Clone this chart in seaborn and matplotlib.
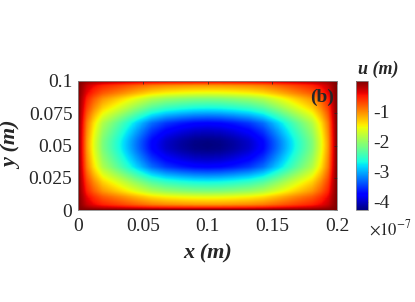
import numpy as np
import matplotlib
matplotlib.use('Agg')
import matplotlib.pyplot as plt
import seaborn as sns

# centreline profiles, u in units of 1e-7 m
x_line = [0, 0.0035, 0.0066, 0.012, 0.019, 0.032, 0.044, 0.057, 0.068, 0.08, 0.09,
          0.1, 0.11, 0.12, 0.132, 0.143, 0.156, 0.168, 0.181, 0.188, 0.1934, 0.1965, 0.2]
u_x = [0, -0.53, -1.07, -1.6, -2.13, -2.67, -3.2, -3.74, -4.0, -4.15, -4.24,
       -4.27, -4.24, -4.15, -4.0, -3.74, -3.2, -2.67, -2.13, -1.6, -1.07, -0.53, 0]
y_line = [0, 0.0016, 0.0039, 0.010, 0.0143, 0.0213, 0.027, 0.033, 0.039, 0.044, 0.047,
          0.05, 0.053, 0.056, 0.061, 0.067, 0.073, 0.0787, 0.0857, 0.090, 0.0961, 0.0984, 0.1]
u_y = [0, -0.53, -1.07, -1.6, -2.13, -2.67, -3.2, -3.74, -4.0, -4.17, -4.25,
       -4.27, -4.25, -4.17, -4.0, -3.74, -3.2, -2.67, -2.13, -1.6, -1.07, -0.53, 0]
u_min = -4.27
cbar_ticks = [-1, -2, -3, -4]

sns.set_theme(style='white')
plt.rcParams['font.family'] = ['Liberation Serif', 'DejaVu Serif']
plt.rcParams['mathtext.fontset'] = 'stix'
plt.rcParams['axes.unicode_minus'] = False

xs = np.linspace(0, 0.2, 401)
ys = np.linspace(0, 0.1, 201)
gx = np.interp(xs, x_line, u_x) / u_min
gy = np.interp(ys, y_line, u_y) / u_min
field = u_min * np.outer(gy, gx)

fig = plt.figure(figsize=(4.15, 3.02), dpi=100)
ax = fig.add_axes([0.188, 0.3046, 0.624, 0.4272])
cax = fig.add_axes([0.858, 0.3046, 0.029, 0.4272])

im = ax.imshow(field, origin='lower', extent=[0, 0.2, 0, 0.1], cmap='jet',
               vmin=u_min, vmax=0, interpolation='bilinear', aspect='auto')
ax.set_xlim(0, 0.2)
ax.set_ylim(0, 0.1)
ax.set_xticks([0, 0.05, 0.1, 0.15, 0.2])
ax.set_xticklabels(['0', '0.05', '0.1', '0.15', '0.2'])
ax.set_yticks([0, 0.025, 0.05, 0.075, 0.1])
ax.set_yticklabels(['0', '0.025', '0.05', '0.075', '0.1'])
ax.tick_params(direction='in', length=2, width=0.5, top=True, right=True,
               labelsize=14, colors='#262626')
ax.tick_params(axis='x', pad=6)
ax.tick_params(axis='y', pad=4)
for s in ax.spines.values():
    s.set_color('#8a8a8a')
    s.set_linewidth(0.6)
ax.set_xlabel('x (m)', fontsize=16, fontweight='bold', fontstyle='italic', labelpad=6)
ax.set_ylabel('y (m)', fontsize=16, fontweight='bold', fontstyle='italic', labelpad=5)
ax.text(0.99, 0.87, '(b)', transform=ax.transAxes, ha='right', va='center',
        fontsize=14, fontweight='bold')

cb = fig.colorbar(im, cax=cax)
cb.set_ticks(cbar_ticks)
cb.set_ticklabels([str(t) for t in cbar_ticks])
cb.ax.tick_params(direction='in', length=2, width=0.5, labelsize=14,
                  colors='#262626', pad=4)
cb.outline.set_edgecolor('#8a8a8a')
cb.outline.set_linewidth(0.6)
fig.text(0.911, 0.772, 'u (m)', ha='center', va='center', fontsize=13,
         fontweight='bold', fontstyle='italic')
fig.text(0.89, 0.243, r'$\times10^{-7}$', ha='left', va='center', fontsize=12,
         color='#262626')

fig.savefig('out.png', dpi=100)
